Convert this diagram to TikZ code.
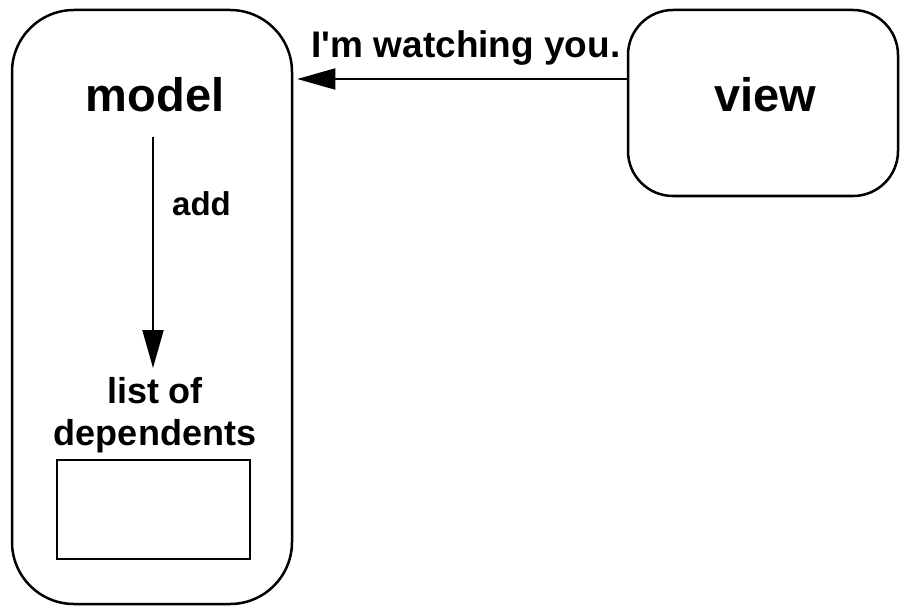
\documentclass[tikz,border=0pt]{standalone}
\usepackage{fontspec}
\newfontfamily\lsans{Liberation Sans}
\usetikzlibrary{arrows.meta}
\begin{document}
\begin{tikzpicture}[x=1pt,y=-1pt,
  box/.style={draw,line width=2.5pt,rounded corners=#1,inner sep=0pt},
  lbl/.style={font=\lsans\bfseries\fontsize{#1}{#1}\selectfont,inner sep=0pt,anchor=base},
  arr/.style={line width=2pt,-{Triangle[length=38pt,width=21pt]}}]
\useasboundingbox (0,0) rectangle (900,607);
% boxes
\node[box=62pt,minimum width=280pt,minimum height=594pt] (model) at (152,307) {};
\node[box=45pt,minimum width=270pt,minimum height=186pt] (view) at (763,103) {};
\node[draw,line width=2pt,inner sep=0pt,minimum width=193pt,minimum height=99pt] (list) at (153.5,509.5) {};
% labels
\node[lbl=47] (mlabel) at (155,112) {model};
\node[lbl=47] (vlabel) at (765,112) {view};
\node[lbl=37] (watch) at (466,58) {I'm watching you.};
\node[lbl=33,anchor=base west] (add) at (172,215) {add};
\node[lbl=36] (listof) at (155,403) {list of};
\node[lbl=36] (deps) at (155,445) {dependents};
% connectors
\coordinate (ay) at (0,79);
\coordinate (vtop) at (153,137);
\coordinate (vbot) at (153,368);
\draw[arr,shorten >=4pt] (view.west |- ay) -- (model.east |- ay);
\draw[arr] (vtop) -- (vbot);
\end{tikzpicture}
\end{document}
